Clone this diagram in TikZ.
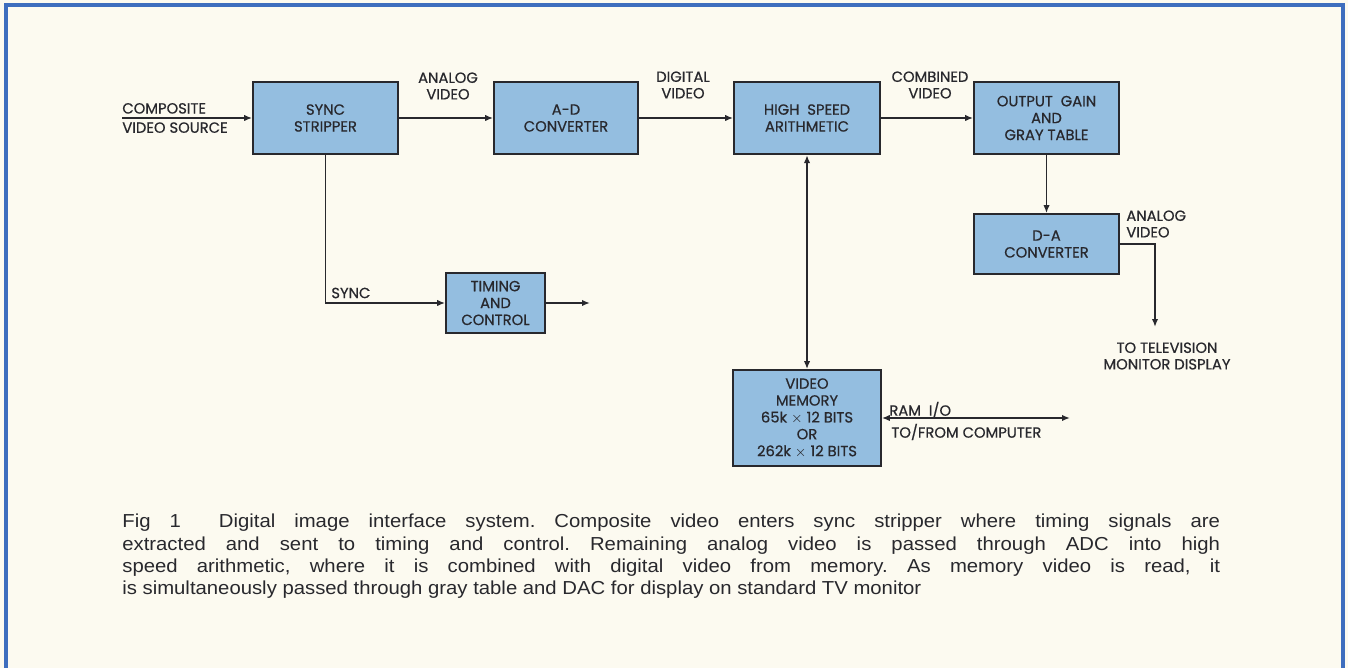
\documentclass[tikz,border=0pt]{standalone}
\usepackage{fontspec}
\setmainfont{Poppins}
\newfontfamily\diagfont{Poppins}[FakeBold=0.6]
\newfontfamily\captionfont{Liberation Sans}[FakeStretch=1.08]
\usetikzlibrary{positioning,arrows.meta}

\definecolor{paper}{RGB}{252,250,240}
\definecolor{boxblue}{RGB}{148,190,224}
\definecolor{frameblue}{RGB}{62,110,190}
\definecolor{ink}{RGB}{40,40,45}

\tikzset{
    block/.style={draw=ink, fill=boxblue, line width=1pt, align=center,
        minimum width=2.9cm, minimum height=1.45cm, inner sep=1pt,
        font=\diagfont\fontsize{8.4}{9.6}\selectfont, text=ink},
    lbl/.style={align=center, inner sep=0pt, font=\diagfont\fontsize{8.4}{9.4}\selectfont, text=ink},
    arr/.style={draw=ink, line width=1pt, -{Latex[length=4.5pt,width=3.6pt]}},
    biarr/.style={draw=ink, line width=1pt, {Latex[length=4.5pt,width=3.6pt]}-{Latex[length=4.5pt,width=3.6pt]}},
}

\begin{document}
\begin{tikzpicture}[x=0.02cm, y=-0.02cm]
    % Page and frame
    \fill[paper] (0,0) rectangle (1348,668);
    \useasboundingbox (0,0) rectangle (1348,668);
    \draw[frameblue, line width=2.2pt] (6,668) -- (6,5) -- (1343,5) -- (1343,668);

    % Free ends of connectors
    \coordinate (src) at (122,118); % Composite video in
    \coordinate (tout) at (590,303); % Timing out
    \coordinate (tv) at (1155,327); % To the monitor
    \coordinate (ram) at (1070,418); % To/from computer

    % Blocks
    \node[block] (sync) at (325.5,118) {SYNC\\STRIPPER};
    \node[block, minimum width=2.88cm] (adc) at (566,118) {A-D\\CONVERTER};
    \node[block, minimum width=2.92cm] (hsa) at (807,118) {HIGH\ \ SPEED\\ARITHMETIC};
    \node[block] (ogt) at (1046.5,118) {OUTPUT\ \ GAIN\\AND\\GRAY TABLE};
    \node[block, minimum height=1.2cm] (dac) at (1046.5,244) {D-A\\CONVERTER};
    \node[block, minimum width=1.98cm, minimum height=1.2cm] (tim) at (495.5,303) {TIMING\\AND\\CONTROL};
    \node[block, minimum width=2.96cm, minimum height=1.92cm] (mem) at (807,418)
        {VIDEO\\MEMORY\\65k $\times$ 12 BITS\\OR\\262k $\times$ 12 BITS};

    % Signal path along the top
    \draw[arr] (src) -- (src -| sync.west);
    \draw[arr] (sync) -- (adc);
    \draw[arr] (adc) -- (hsa);
    \draw[arr] (hsa) -- (ogt);
    \draw[arr] (ogt) -- (dac);
    \draw[arr] (dac.east) -| (tv);

    % Sync and memory branches
    \draw[arr] (sync.south) |- (tim.west);
    \draw[arr] (tim.east) -- (tout);
    \draw[biarr] (hsa.south) -- (mem.north);
    \draw[biarr] (mem.east) -- (ram);

    % Connector labels
    \node[lbl, anchor=south west] (complbl) at (122,114) {COMPOSITE};
    \node[lbl, anchor=north west] (srclbl) at (122,122) {VIDEO SOURCE};
    \node[lbl] (avlbl) at (448,86) {ANALOG\\VIDEO};
    \node[lbl] (dvlbl) at (683,85) {DIGITAL\\VIDEO};
    \node[lbl] (cvlbl) at (930,85) {COMBINED\\VIDEO};
    \node[lbl, anchor=west] (synclbl) at (331,293) {SYNC};
    \node[lbl, anchor=west, align=left] (avlbl2) at (1126,224) {ANALOG\\VIDEO};
    \node[lbl] (tvlbl) at (1167,356) {TO\ TELEVISION\\MONITOR\ DISPLAY};
    \node[lbl, anchor=west] (ramlbl) at (889,410) {RAM\ \ I/O};
    \node[lbl, anchor=west] (pclbl) at (891,432) {TO/FROM\ COMPUTER};

    % Caption
    \node[anchor=north west, inner sep=0pt, text width=21.96cm, align=justify,
        font=\captionfont\frenchspacing\fontsize{10.7}{12.6}\selectfont, text=ink] (caption) at (122,514)
        {Fig 1\ \ Digital image interface system. Composite video enters sync stripper where timing signals are\linebreak
        extracted and sent to timing and control. Remaining analog video is passed through ADC into high\linebreak
        speed arithmetic, where it is combined with digital video from memory. As memory video is read, it\linebreak
        is simultaneously passed through gray table and DAC for display on standard TV monitor\par};
\end{tikzpicture}
\end{document}
